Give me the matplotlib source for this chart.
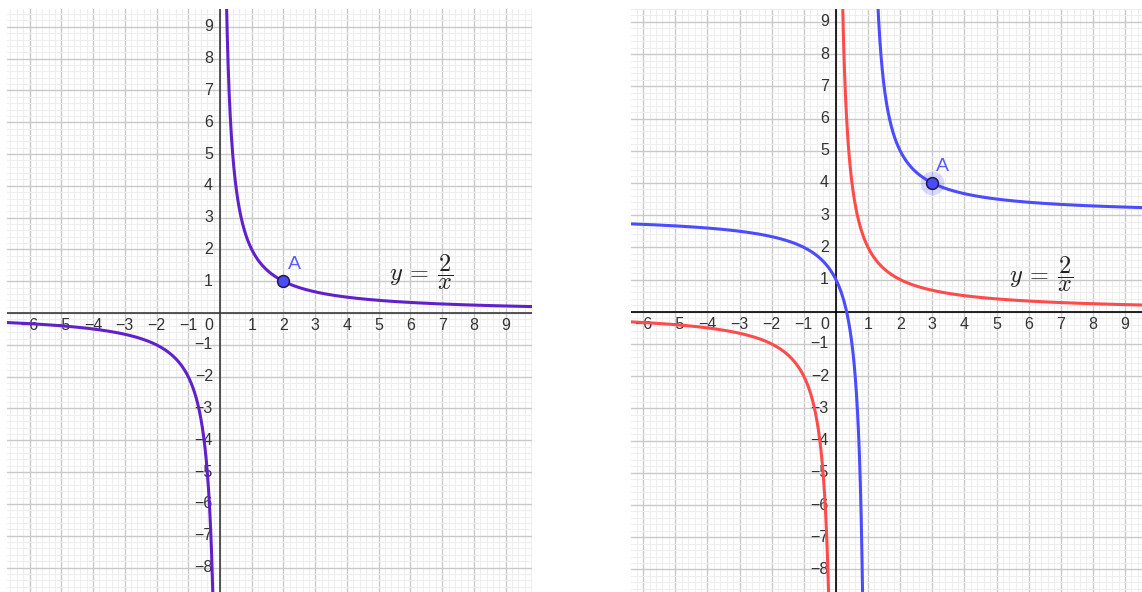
import numpy as np
import matplotlib.pyplot as plt
from matplotlib.ticker import MultipleLocator

plt.rcParams['mathtext.fontset'] = 'cm'

# y = k / (x - h) + v
k = 2
base_shift = (0, 0)       # red / purple curve: y = 2/x
moved_shift = (1, 3)      # blue curve: y = 2/(x-1) + 3

point_left = (2, 1)
point_right = (3, 4)

x_ticks = [-6, -5, -4, -3, -2, -1, 1, 2, 3, 4, 5, 6, 7, 8, 9]
y_ticks = [-8, -7, -6, -5, -4, -3, -2, -1, 1, 2, 3, 4, 5, 6, 7, 8, 9]

left_view = dict(xlim=(-6.71, 9.83), ylim=(-8.77, 9.56))
right_view = dict(xlim=(-6.38, 9.53), ylim=(-8.70, 9.40))

PURPLE = '#6220cc'
RED = '#ff4b4b'
BLUE = '#4b4bff'
LABEL_BLUE = '#5c5cff'
TEXT = '#333333'
FORMULA = r'$y\:=\:\dfrac{2}{x}$'


def hyperbola(ax, shift, xlim, color):
    h, v = shift
    # sample densely close to the vertical asymptote, one branch at a time
    gaps_l = np.geomspace(1e-3, h - xlim[0], 1500)[::-1]
    gaps_r = np.geomspace(1e-3, xlim[1] - h, 1500)
    for xs in (h - gaps_l, h + gaps_r):
        ax.plot(xs, k / (xs - h) + v, color=color, lw=2.2,
                solid_capstyle='round', zorder=4)


def geogebra_axes(ax, xlim, ylim, axis_color):
    ax.set_xlim(*xlim)
    ax.set_ylim(*ylim)
    ax.xaxis.set_major_locator(MultipleLocator(1))
    ax.yaxis.set_major_locator(MultipleLocator(1))
    ax.xaxis.set_minor_locator(MultipleLocator(0.2))
    ax.yaxis.set_minor_locator(MultipleLocator(0.2))
    ax.grid(which='minor', color='#eeeeee', lw=0.8, zorder=0)
    ax.grid(which='major', color='#c9c9c9', lw=1.0, zorder=1)
    ax.set_axisbelow(True)
    ax.tick_params(which='both', length=0, labelbottom=False, labelleft=False)
    for s in ax.spines.values():
        s.set_visible(False)
    ax.axhline(0, color=axis_color, lw=1.2, zorder=2)
    ax.axvline(0, color=axis_color, lw=1.2, zorder=2)

    font = dict(family='Liberation Sans', size=11.5, color=TEXT, zorder=3)
    for t in x_ticks:
        lab = str(t).replace('-', '\u2212')
        ax.annotate(lab, (t, 0), xytext=(0, -5), textcoords='offset pixels',
                    ha='center', va='top', **font)
    for t in y_ticks:
        lab = str(t).replace('-', '\u2212')
        ax.annotate(lab, (0, t), xytext=(-7, 0), textcoords='offset pixels',
                    ha='right', va='center', **font)
    ax.annotate('0', (0, 0), xytext=(-7, -5), textcoords='offset pixels',
                ha='right', va='top', **font)


fig = plt.figure(figsize=(11.42, 5.92), dpi=100)
ax1 = fig.add_axes([7 / 1142, 0, 525 / 1142, 583 / 592])
ax2 = fig.add_axes([631 / 1142, 0, 511 / 1142, 583 / 592])

# left panel: y = 2/x with point A
geogebra_axes(ax1, left_view['xlim'], left_view['ylim'], '#3a3a3a')
hyperbola(ax1, base_shift, left_view['xlim'], PURPLE)
ax1.plot(*point_left, 'o', ms=8.5, mfc=BLUE, mec='#1c1c44', mew=1.1, zorder=6)
ax1.annotate('A', point_left, xytext=(4, 8), textcoords='offset pixels',
             ha='left', va='bottom', family='Liberation Sans', size=14,
             color=LABEL_BLUE, zorder=6)
ax1.text(5.33, 1.27, FORMULA, fontsize=17.5, color='#222222',
         ha='left', va='center', zorder=5)

# right panel: y = 2/x and its translate through A
geogebra_axes(ax2, right_view['xlim'], right_view['ylim'], '#000000')
hyperbola(ax2, base_shift, right_view['xlim'], RED)
hyperbola(ax2, moved_shift, right_view['xlim'], BLUE)
ax2.plot(*point_right, 'o', ms=17, mfc=BLUE, mec='none', alpha=0.2, zorder=5)
ax2.plot(*point_right, 'o', ms=8.5, mfc=BLUE, mec='#1c1c44', mew=1.1, zorder=6)
ax2.annotate('A', point_right, xytext=(4, 8), textcoords='offset pixels',
             ha='left', va='bottom', family='Liberation Sans', size=14,
             color=LABEL_BLUE, zorder=6)
ax2.text(5.40, 1.18, FORMULA, fontsize=17.5, color='#222222',
         ha='left', va='center', zorder=5)

fig.savefig('out.png', dpi=100)
